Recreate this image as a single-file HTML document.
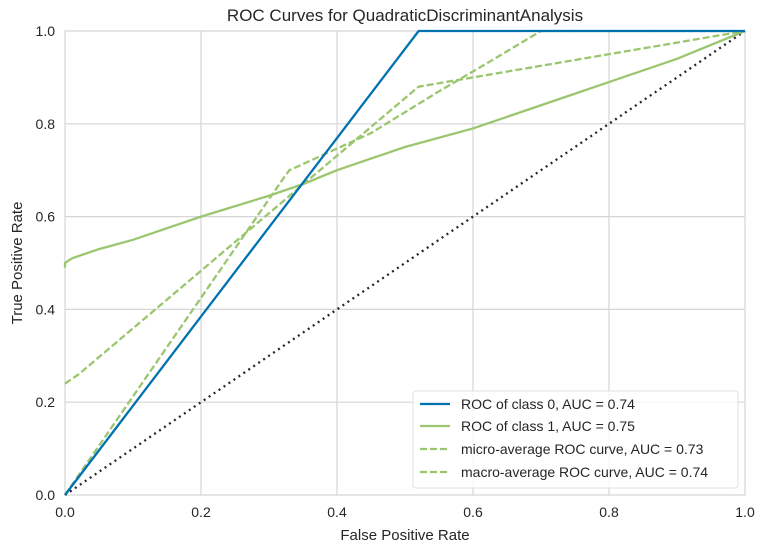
<!DOCTYPE html>
<html><head><meta charset="utf-8"><style>
body{margin:0;background:#fff;font-family:"Liberation Sans",sans-serif}
text{font-family:"Liberation Sans",sans-serif;fill:#262626}
</style></head><body>
<svg id="chart" width="764" height="551">
<rect x="65" y="31" width="680" height="464" fill="#fff" stroke="#ccc"/>
<g id="grid"></g>
<g id="ticks"></g>
<g id="series"></g>
<text x="405" y="21" text-anchor="middle" font-size="17">ROC Curves for QuadraticDiscriminantAnalysis</text>
<text x="405" y="540" text-anchor="middle" font-size="15">False Positive Rate</text>
<text transform="translate(22,263) rotate(-90)" text-anchor="middle" font-size="15">True Positive Rate</text>
<g>
<rect x="413" y="391" width="325" height="97" rx="3" fill="#fff" fill-opacity="0.8" stroke="#e0e0e0"/>
<g><line x1="420" y1="404" x2="450" y2="404" stroke="#0072b2" stroke-width="2.2"/><text x="461" y="409" font-size="14">ROC of class 0, AUC = 0.74</text></g>
<g><line x1="420" y1="426" x2="450" y2="426" stroke="#9bc66f" stroke-width="2.2"/><text x="461" y="431" font-size="14">ROC of class 1, AUC = 0.75</text></g>
<g><line x1="420" y1="449" x2="450" y2="449" stroke="#9bc66f" stroke-width="2.2" stroke-dasharray="7,3"/><text x="461" y="454" font-size="14">micro-average ROC curve, AUC = 0.73</text></g>
<g><line x1="420" y1="472" x2="450" y2="472" stroke="#9bc66f" stroke-width="2.2" stroke-dasharray="7,3"/><text x="461" y="477" font-size="14">macro-average ROC curve, AUC = 0.74</text></g>
</g>
</svg>
<script>
const xTicks=[0,0.2,0.4,0.6,0.8,1.0];
const yTicks=[0,0.2,0.4,0.6,0.8,1.0];
const class0Fpr=[0,0.52,1];
const class0Tpr=[0,1,1];
const class1Fpr=[0,0,0.01,0.05,0.1,0.2,0.3,0.35,0.4,0.5,0.6,0.7,0.8,0.9,1];
const class1Tpr=[0.49,0.5,0.51,0.53,0.55,0.6,0.645,0.67,0.7,0.75,0.79,0.84,0.89,0.94,1];
const microFpr=[0,0.02,0.52,1];
const microTpr=[0.24,0.26,0.88,1];
const macroFpr=[0,0.32,0.33,0.45,0.55,0.62,0.7,1];
const macroTpr=[0,0.68,0.7,0.78,0.87,0.93,1,1];
const NS='http://www.w3.org/2000/svg';
const X=v=>65+v*680, Y=v=>495-v*464;
const grid=document.getElementById('grid'),ticks=document.getElementById('ticks'),ser=document.getElementById('series');
function mk(tag,attrs,parent){const e=document.createElementNS(NS,tag);for(const k in attrs)e.setAttribute(k,attrs[k]);parent.appendChild(e);return e;}
xTicks.forEach(t=>{
 const l=mk('line',{x1:X(t),x2:X(t),y1:31,y2:495,stroke:'#d6d6d6','stroke-width':1.2},grid);
 
 
 const tx=mk('text',{x:X(t),y:517,'text-anchor':'middle','font-size':14},ticks);
 tx.textContent=t.toFixed(1);
 
 
});
yTicks.forEach(t=>{
 const l=mk('line',{x1:65,x2:745,y1:Y(t),y2:Y(t),stroke:'#d6d6d6','stroke-width':1.2},grid);
 
 
 const tx=mk('text',{x:55,y:Y(t)+5,'text-anchor':'end','font-size':14},ticks);
 tx.textContent=t.toFixed(1);
 
 
});
function line(xs,ys,color,dash,name){
 const p=mk('polyline',{points:xs.map((x,i)=>X(x)+','+Y(ys[i])).join(' '),fill:'none',stroke:color,'stroke-width':2.3,'stroke-dasharray':dash},ser);
 
 
}
line([0,1],[0,1],'#262626','2,4','chance-diagonal');
line(microFpr,microTpr,'#9bc66f','7,3','micro-average-curve');
line(macroFpr,macroTpr,'#9bc66f','7,3','macro-average-curve');
line(class1Fpr,class1Tpr,'#9bc66f','none','class-1-curve');
line(class0Fpr,class0Tpr,'#0072b2','none','class-0-curve');
</script>
</body></html>
